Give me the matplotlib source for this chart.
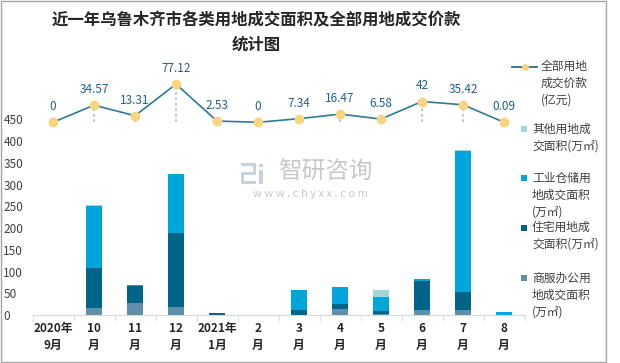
import matplotlib
matplotlib.use("Agg")
import matplotlib.pyplot as plt
from matplotlib.patches import Rectangle
from matplotlib.lines import Line2D
import numpy as np

plt.rcParams['font.family'] = ['Noto Sans CJK SC', 'DejaVu Sans']

months = ["2020年\n9月", "10\n月", "11\n月", "12\n月", "2021年\n1月", "2\n月",
          "3\n月", "4\n月", "5\n月", "6\n月", "7\n月", "8\n月"]
# 成交面积 (万㎡)
shangfu = [0, 17, 28, 19, 0, 0, 1, 14, 3, 12, 12, 0]
zhuzhai = [0, 91, 39, 170, 5, 0, 11, 11, 6, 67, 42, 0]
gongye = [0, 142, 2, 135, 0, 0, 46, 39, 34, 4, 322, 7]
qita = [0, 2, 0, 0, 0, 0, 0, 0, 14, 1, 2, 0]
# 全部用地成交价款 (亿元)
price = [0, 34.57, 13.31, 77.12, 2.53, 0, 7.34, 16.47, 6.58, 42, 35.42, 0.09]
price_labels = ["0", "34.57", "13.31", "77.12", "2.53", "0", "7.34", "16.47",
                "6.58", "42", "35.42", "0.09"]

c_shangfu = "#5E91A9"
c_zhuzhai = "#006388"
c_gongye = "#00A5DC"
c_qita = "#A2D8D5"

W, H = 620, 363
fig = plt.figure(figsize=(6.2, 3.63), dpi=100)

def fx(px):
    return px / W

def fy(py):
    return 1 - py / H

# outer frame
fig.patches.append(Rectangle((fx(0.5), fy(361.5)), fx(605), (361) / H, transform=fig.transFigure,
                             fill=False, edgecolor="#A6A6A6", lw=1))

x = np.arange(len(months))
y0, ytop = 315.3, 315.3 - 450 * 0.436
ax = fig.add_axes([fx(32.5), fy(y0), fx(492), (y0 - ytop) / H])
bw = 0.39
b1 = np.array(shangfu)
b2 = b1 + np.array(zhuzhai)
b3 = b2 + np.array(gongye)
ax.bar(x, shangfu, bw, color=c_shangfu)
ax.bar(x, zhuzhai, bw, bottom=b1, color=c_zhuzhai)
ax.bar(x, gongye, bw, bottom=b2, color=c_gongye)
ax.bar(x, qita, bw, bottom=b3, color=c_qita)
ax.set_xlim(-0.5, len(months) - 0.5)
ax.set_ylim(0, 450)
ax.set_yticks(range(0, 451, 50))
for s in ["top", "right", "left"]:
    ax.spines[s].set_visible(False)
ax.spines["bottom"].set_color("#D9D9D9")
ax.tick_params(axis="y", length=0, pad=21, labelsize=8.5, labelcolor="#404040")
for t in ax.get_yticklabels():
    t.set_ha("left")
ax.set_xticks(x)
ax.set_xticklabels(months, fontsize=8.5, fontweight="bold", color="#262626", linespacing=1.35)
ax.tick_params(axis="x", which="major", length=0, pad=5)
ax.set_xticks(np.arange(-0.5, len(months), 1), minor=True)
ax.tick_params(axis="x", which="minor", length=4, color="#D9D9D9")

# line axes
lpx = 0.495
ax2 = fig.add_axes([fx(32.5), fy(122.3), fx(492), 80 * lpx / H])
ax2.set_xlim(-0.5, len(months) - 0.5)
ax2.set_ylim(0, 80)
ax2.axis("off")
ax2.vlines(x, 0, price, colors="#BFBFBF", linestyles=(0, (1.5, 1.5)), lw=1.3, clip_on=False)
ax2.plot(x, price, color="#2C7A9C", lw=1.2, marker="o", ms=6, mfc="#F8D47E", mec="#F8D47E",
         clip_on=False, zorder=3)
for xi, v, lab in zip(x, price, price_labels):
    ax2.annotate(lab, (xi, v), xytext=(0, 6.5), textcoords="offset points", ha="center", va="bottom",
                 fontsize=8.5, color="#1F5F8E", annotation_clip=False)

# title
fig.text(fx(256), fy(20), "近一年乌鲁木齐市各类用地成交面积及全部用地成交价款", ha="center", va="center",
         fontsize=11.8, fontweight="bold", color="#262626")
fig.text(fx(256), fy(45), "统计图", ha="center", va="center",
         fontsize=11.8, fontweight="bold", color="#262626")

# watermark
wm = "#C9D1DD"
for (x0, yy0, w, h) in [(241, 163, 15, 3), (253, 163, 3, 12), (244, 172, 12, 3),
                        (241, 172, 3, 12), (241, 181, 15, 3), (259, 170, 4, 14), (259, 164, 4, 3)]:
    fig.patches.append(Rectangle((fx(x0), fy(yy0 + h)), w / W, h / H, transform=fig.transFigure,
                                 color=wm, lw=0))
fig.text(fx(325), fy(172), "智研咨询", ha="center", va="center", fontsize=17, color="#C8C8C8")
fig.text(fx(310), fy(194), "w w w . c h y x x . c o m", ha="center", va="center", fontsize=8,
         color="#C8C8C8")

# legend
lc = "#404040"
fs = 8.5
fig.lines.append(Line2D([fx(512), fx(537)], [fy(66.7), fy(66.7)], transform=fig.transFigure,
                        color="#1F6E8C", lw=1.3))
fig.lines.append(Line2D([fx(524.5)], [fy(66.7)], transform=fig.transFigure, marker="o",
                        ms=4, mfc="#F8D47E", mec="#F8D47E"))
legend_items = [
    (None, 541, [66.7, 83.3, 100], ["全部用地", "成交价款", "(亿元)"]),
    (c_qita, 532, [129.3, 146.3], ["其他用地成", "交面积(万㎡)"]),
    (c_gongye, 532, [178.3, 195, 211.7], ["工业仓储用", "地成交面积", "(万㎡)"]),
    (c_zhuzhai, 532, [227.7, 244.3], ["住宅用地成", "交面积(万㎡)"]),
    (c_shangfu, 532, [278.3, 295, 311.7], ["商服办公用", "地成交面积", "(万㎡)"]),
]
for col, tx, ys, lines in legend_items:
    if col is not None:
        fig.patches.append(Rectangle((fx(520.5), fy(ys[0] + 3)), 6 / W, 6 / H,
                                     transform=fig.transFigure, color=col, lw=0))
    for yy, s in zip(ys, lines):
        fig.text(fx(tx), fy(yy), s, ha="left", va="center", fontsize=fs, color=lc)

fig.savefig("out.png", dpi=100)
